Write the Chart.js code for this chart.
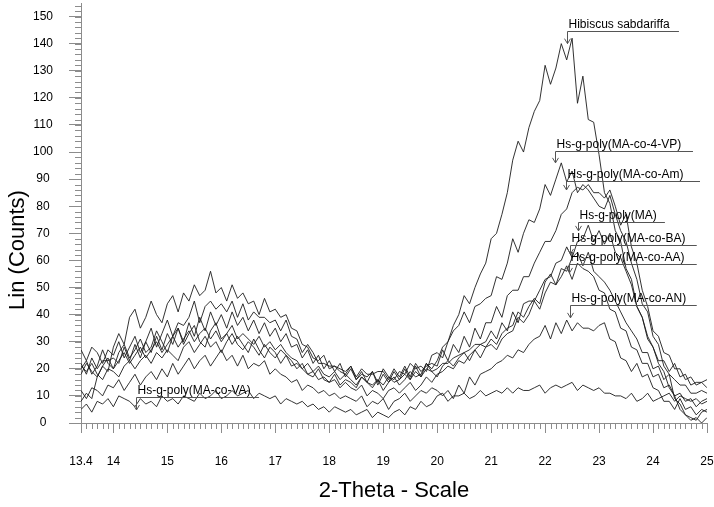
<!DOCTYPE html>
<html>
<head>
<meta charset="utf-8">
<script src="https://cdn.jsdelivr.net/npm/chart.js@4.4.1/dist/chart.umd.min.js"></script>
<style>
    html, body { margin: 0; padding: 0; background: #fff; }
    canvas { display: block; }
</style>
</head>
<body>
<canvas id="xrd_chart" width="714" height="507"></canvas>
<script>
// 2-theta grid (deg)
var THETA = [
    13.4, 13.5, 13.6, 13.7, 13.8, 13.9, 14.0, 14.1, 14.2, 14.3,
    14.4, 14.5, 14.6, 14.7, 14.8, 14.9, 15.0, 15.1, 15.2, 15.3,
    15.4, 15.5, 15.6, 15.7, 15.8, 15.9, 16.0, 16.1, 16.2, 16.3,
    16.4, 16.5, 16.6, 16.7, 16.8, 16.9, 17.0, 17.1, 17.2, 17.3,
    17.4, 17.5, 17.6, 17.7, 17.8, 17.9, 18.0, 18.1, 18.2, 18.3,
    18.4, 18.5, 18.6, 18.7, 18.8, 18.9, 19.0, 19.1, 19.2, 19.3,
    19.4, 19.5, 19.6, 19.7, 19.8, 19.9, 20.0, 20.1, 20.2, 20.3,
    20.4, 20.5, 20.6, 20.7, 20.8, 20.9, 21.0, 21.1, 21.2, 21.3,
    21.4, 21.5, 21.6, 21.7, 21.8, 21.9, 22.0, 22.1, 22.2, 22.3,
    22.4, 22.5, 22.6, 22.7, 22.8, 22.9, 23.0, 23.1, 23.2, 23.3,
    23.4, 23.5, 23.6, 23.7, 23.8, 23.9, 24.0, 24.1, 24.2, 24.3,
    24.4, 24.5, 24.6, 24.7, 24.8, 24.9, 25.0
];

var HIBISCUS = [
    20, 23, 18, 21, 27, 22, 20, 26, 29, 24,
    27, 31, 26, 28, 34, 30, 26, 32, 35, 29,
    33, 36, 30, 28, 34, 37, 31, 33, 29, 32,
    29, 26, 31, 27, 24, 28, 26, 22, 25, 23,
    20, 22, 18, 17, 20, 16, 15, 18, 14, 16,
    15, 13, 17, 15, 14, 16, 12, 15, 17, 14,
    16, 19, 17, 18, 22, 20, 23, 28, 30, 36,
    40, 47, 44, 50, 55, 59, 68, 70, 77, 85,
    97, 104, 100, 109, 115, 119, 132, 125, 131, 140,
    134, 142, 118, 128, 112, 111, 99, 85, 81, 71,
    67, 57, 53, 43, 39, 32, 28, 22, 19, 13,
    10, 5, 3, 1, 2, 0, 2
];
var MA_4VP = [
    8, 11, 9, 17, 21, 19, 28, 33, 29, 39,
    42, 35, 39, 45, 40, 37, 44, 47, 41, 48,
    45, 51, 47, 49, 56, 48, 50, 45, 51, 46,
    48, 44, 45, 40, 46, 41, 42, 39, 40, 35,
    34, 29, 28, 24, 23, 25, 20, 21, 19, 18,
    21, 16, 18, 17, 19, 15, 20, 17, 16, 19,
    18, 22, 20, 21, 19, 25, 26, 24, 30, 34,
    36, 41, 37, 43, 44, 46, 47, 54, 53, 59,
    68, 63, 70, 75, 74, 79, 88, 84, 90, 96,
    89, 93, 85, 88, 86, 83, 80, 79, 84, 77,
    71, 67, 59, 53, 44, 41, 32, 29, 21, 18,
    9, 7, 3, 2, 1, 4, 5
];
var MA_AM = [
    27, 23, 28, 26, 22, 27, 25, 30, 24, 28,
    32, 26, 30, 35, 28, 33, 38, 32, 37, 36,
    39, 45, 37, 43, 45, 42, 44, 41, 45, 39,
    44, 38, 41, 39, 39, 37, 38, 34, 38, 32,
    31, 26, 29, 26, 22, 22, 21, 21, 20, 19,
    21, 17, 20, 18, 18, 19, 19, 16, 20, 17,
    21, 17, 22, 19, 21, 22, 21, 27, 23, 29,
    26, 32, 28, 35, 31, 37, 37, 43, 39, 47,
    49, 49, 54, 54, 59, 63, 67, 67, 71, 77,
    79, 85, 87, 86, 88, 85, 85, 83, 86, 80,
    73, 77, 65, 59, 49, 43, 34, 32, 26, 25,
    20, 20, 16, 17, 14, 15, 13
];
var MA_ONLY = [
    22, 18, 24, 20, 23, 23, 24, 22, 28, 23,
    29, 24, 30, 26, 32, 27, 33, 29, 35, 30,
    37, 32, 39, 34, 41, 36, 40, 35, 41, 36,
    39, 34, 38, 33, 37, 32, 35, 30, 33, 28,
    29, 24, 27, 22, 25, 20, 23, 19, 22, 17,
    20, 16, 19, 15, 19, 14, 18, 15, 19, 16,
    20, 16, 21, 17, 22, 19, 20, 22, 22, 24,
    25, 26, 27, 29, 29, 30, 34, 31, 37, 34,
    41, 37, 44, 45, 45, 49, 53, 54, 59, 60,
    65, 61, 67, 68, 73, 67, 71, 66, 70, 63,
    61, 56, 51, 43, 39, 31, 28, 23, 23, 19,
    22, 17, 18, 14, 15, 15, 16
];
var MA_BA = [
    18, 22, 19, 17, 21, 24, 20, 23, 26, 22,
    25, 28, 24, 27, 30, 26, 29, 32, 28, 31,
    34, 30, 33, 35, 31, 34, 30, 33, 36, 31,
    33, 31, 29, 32, 28, 30, 27, 29, 26, 24,
    23, 20, 22, 19, 21, 18, 17, 19, 16, 18,
    16, 14, 17, 15, 13, 16, 14, 17, 15, 16,
    18, 16, 19, 17, 20, 19, 17, 21, 23, 21,
    24, 26, 23, 27, 29, 28, 31, 29, 33, 35,
    36, 41, 39, 43, 46, 44, 52, 55, 51, 57,
    56, 61, 63, 58, 63, 56, 54, 52, 49, 45,
    41, 37, 34, 31, 26, 26, 20, 21, 16, 18,
    16, 14, 14, 11, 11, 12, 11
];
var MA_AA = [
    21, 19, 22, 18, 16, 20, 19, 17, 21, 23,
    20, 23, 25, 22, 26, 24, 27, 25, 23, 28,
    30, 26, 29, 32, 28, 30, 26, 30, 33, 29,
    27, 30, 28, 25, 29, 26, 24, 27, 25, 21,
    22, 20, 18, 19, 16, 17, 15, 16, 13, 15,
    13, 12, 14, 10, 12, 11, 9, 12, 13, 11,
    13, 15, 12, 14, 17, 15, 18, 19, 21, 20,
    23, 22, 25, 27, 24, 28, 29, 27, 31, 33,
    34, 39, 37, 40, 45, 42, 48, 52, 51, 54,
    58, 53, 59, 57, 56, 54, 49, 48, 42, 41,
    35, 34, 28, 27, 22, 22, 17, 18, 13, 14,
    10, 11, 8, 9, 6, 8, 9
];
var MA_AN = [
    12, 9, 13, 12, 10, 14, 13, 16, 12, 15,
    18, 14, 17, 19, 16, 20, 17, 22, 18, 21,
    24, 20, 23, 25, 21, 24, 27, 23, 25, 21,
    25, 20, 22, 21, 23, 18, 20, 18, 17, 15,
    16, 12, 14, 13, 11, 12, 10, 11, 9, 10,
    9, 8, 10, 6, 8, 7, 9, 5, 8, 9,
    11, 8, 10, 12, 11, 13, 12, 10, 12, 9,
    14, 11, 17, 14, 18, 19, 20, 22, 23, 25,
    24, 27, 26, 29, 31, 32, 36, 31, 37, 33,
    38, 34, 37, 35, 35, 34, 36, 37, 31, 30,
    24, 23, 19, 22, 17, 18, 13, 12, 8, 8,
    5, 9, 5, 6, 3, 5, 4
];
var MA_VA = [
    5, 7, 4, 8, 7, 9, 6, 10, 9, 8,
    6, 9, 7, 8, 6, 10, 8, 9, 7, 10,
    9, 8, 11, 9, 10, 12, 9, 10, 12, 10,
    11, 12, 9, 11, 10, 9, 10, 7, 9, 8,
    7, 8, 6, 7, 5, 6, 4, 6, 5, 4,
    5, 3, 4, 5, 2, 4, 3, 2, 4, 5,
    3, 6, 5, 8, 6, 7, 10, 11, 8, 10,
    10, 11, 9, 10, 12, 10, 11, 12, 11, 13,
    11, 13, 12, 12, 13, 14, 11, 13, 14, 13,
    14, 15, 12, 14, 13, 12, 13, 11, 11, 10,
    10, 9, 11, 8, 9, 11, 8, 9, 10, 11,
    8, 10, 9, 8, 9, 7, 8
];

var TICKS_X = [13.4, 14, 15, 16, 17, 18, 19, 20, 21, 22, 23, 24, 25];
var TICKS_Y = [0, 10, 20, 30, 40, 50, 60, 70, 80, 90, 100, 110, 120, 130, 140, 150];

// peak labels: x0..x1 = underline (2theta), y = underline level, tip = arrow end (counts)
var PEAK_LABELS = [
    {text: 'Hibiscus sabdariffa', x0: 22.41, x1: 24.48, y: 144.8, tip: 140.0},
    {text: 'Hs-g-poly(MA-co-4-VP)', x0: 22.19, x1: 24.74, y: 100.5, tip: 96.0},
    {text: 'Hs-g-poly(MA-co-Am)', x0: 22.39, x1: 24.87, y: 89.4, tip: 86.0},
    {text: 'Hs-g-poly(MA)', x0: 22.61, x1: 24.22, y: 74.3, tip: 70.9},
    {text: 'Hs-g-poly(MA-co-BA)', x0: 22.46, x1: 24.81, y: 65.8, tip: 62.4},
    {text: 'Hs-g-poly(MA-co-AA)', x0: 22.44, x1: 24.81, y: 58.7, tip: 55.4},
    {text: 'Hs-g-poly(MA-co-AN)', x0: 22.46, x1: 24.81, y: 43.6, tip: 38.8},
    {text: 'Hs-g-poly(MA-co-VA)', x0: 14.41, x1: 16.70, y: 9.6, tip: 4.8}
];

var FONT = 'Arial, "Liberation Sans", sans-serif';
var AXIS_COLOR = '#8c8c8c';

function toPoints(values) {
    return THETA.map(function (t, i) {
        return {x: t, y: values[i]};
    });
}

function makeSet(name, values) {
    return {
        label: name,
        data: toPoints(values),
        borderColor: '#1c1c1c',
        borderWidth: 0.9,
        pointRadius: 0,
        tension: 0,
        fill: false
    };
}

function noPad(scale) {
    scale.paddingTop = 0;
    scale.paddingBottom = 0;
    scale.paddingLeft = 0;
    scale.paddingRight = 0;
}

// 작은 눈금, 라벨, 축 제목
var decorPlugin = {
    id: 'decor',
    afterDraw: function (chart) {
        var ctx = chart.ctx;
        var xs = chart.scales.x;
        var ys = chart.scales.y;
        var area = chart.chartArea;
        ctx.save();

        ctx.strokeStyle = AXIS_COLOR;
        ctx.lineWidth = 1;
        ctx.beginPath();
        for (var k = 134; k <= 250; k++) {
            var px = Math.round(xs.getPixelForValue(k / 10)) + 0.5;
            ctx.moveTo(px, area.bottom);
            ctx.lineTo(px, area.bottom + 6);
        }
        for (var j = 0; j <= 154; j += 2) {
            var py = Math.round(ys.getPixelForValue(j)) + 0.5;
            ctx.moveTo(area.left - 6, py);
            ctx.lineTo(area.left, py);
        }
        ctx.stroke();

        ctx.font = '12px ' + FONT;
        ctx.textAlign = 'left';
        ctx.textBaseline = 'bottom';
        PEAK_LABELS.forEach(function (lb) {
            var x0 = Math.round(xs.getPixelForValue(lb.x0)) + 0.5;
            var x1 = xs.getPixelForValue(lb.x1);
            var yl = Math.round(ys.getPixelForValue(lb.y)) + 0.5;
            var yt = ys.getPixelForValue(lb.tip);
            ctx.strokeStyle = '#555';
            ctx.beginPath();
            ctx.moveTo(x1, yl);
            ctx.lineTo(x0, yl);
            ctx.lineTo(x0, yt);
            ctx.moveTo(x0 - 3, yt - 5);
            ctx.lineTo(x0, yt);
            ctx.lineTo(x0 + 3, yt - 5);
            ctx.stroke();
            ctx.fillStyle = '#000';
            ctx.fillText(lb.text, x0 + 1, yl - 1);
        });

        ctx.fillStyle = '#000';
        ctx.font = '22px ' + FONT;
        ctx.textAlign = 'center';
        ctx.textBaseline = 'middle';
        ctx.fillText('2-Theta - Scale', (area.left + area.right) / 2, 491);
        ctx.translate(18, 250);
        ctx.rotate(-Math.PI / 2);
        ctx.fillText('Lin (Counts)', 0, 0);
        ctx.restore();
    }
};

new Chart(document.getElementById('xrd_chart').getContext('2d'), {
    type: 'line',
    data: {
        datasets: [
            makeSet('Hibiscus sabdariffa', HIBISCUS),
            makeSet('Hs-g-poly(MA-co-4-VP)', MA_4VP),
            makeSet('Hs-g-poly(MA-co-Am)', MA_AM),
            makeSet('Hs-g-poly(MA)', MA_ONLY),
            makeSet('Hs-g-poly(MA-co-BA)', MA_BA),
            makeSet('Hs-g-poly(MA-co-AA)', MA_AA),
            makeSet('Hs-g-poly(MA-co-AN)', MA_AN),
            makeSet('Hs-g-poly(MA-co-VA)', MA_VA)
        ]
    },
    options: {
        responsive: false,
        animation: false,
        devicePixelRatio: 1,
        layout: {padding: {top: 3, right: 7, bottom: 0, left: 0}},
        plugins: {
            legend: {display: false},
            tooltip: {enabled: false}
        },
        scales: {
            x: {
                type: 'linear',
                min: 13.4,
                max: 25,
                afterBuildTicks: function (scale) {
                    scale.ticks = TICKS_X.map(function (v) { return {value: v}; });
                },
                afterFit: function (scale) {
                    scale.height = 84;
                    noPad(scale);
                },
                grid: {drawOnChartArea: false, color: AXIS_COLOR, tickLength: 10},
                border: {color: AXIS_COLOR},
                ticks: {
                    color: '#000',
                    font: {family: FONT, size: 12},
                    padding: 21,
                    maxRotation: 0,
                    autoSkip: false,
                    callback: function (v) { return String(v); }
                }
            },
            y: {
                type: 'linear',
                min: 0,
                max: 155,
                afterBuildTicks: function (scale) {
                    scale.ticks = TICKS_Y.map(function (v) { return {value: v}; });
                },
                afterFit: function (scale) {
                    scale.width = 81;
                    noPad(scale);
                },
                grid: {drawOnChartArea: false, color: AXIS_COLOR, tickLength: 12},
                border: {color: AXIS_COLOR},
                ticks: {
                    color: '#000',
                    font: {family: FONT, size: 12},
                    crossAlign: 'center',
                    padding: 16
                }
            }
        }
    },
    plugins: [decorPlugin]
});
</script>
</body>
</html>
